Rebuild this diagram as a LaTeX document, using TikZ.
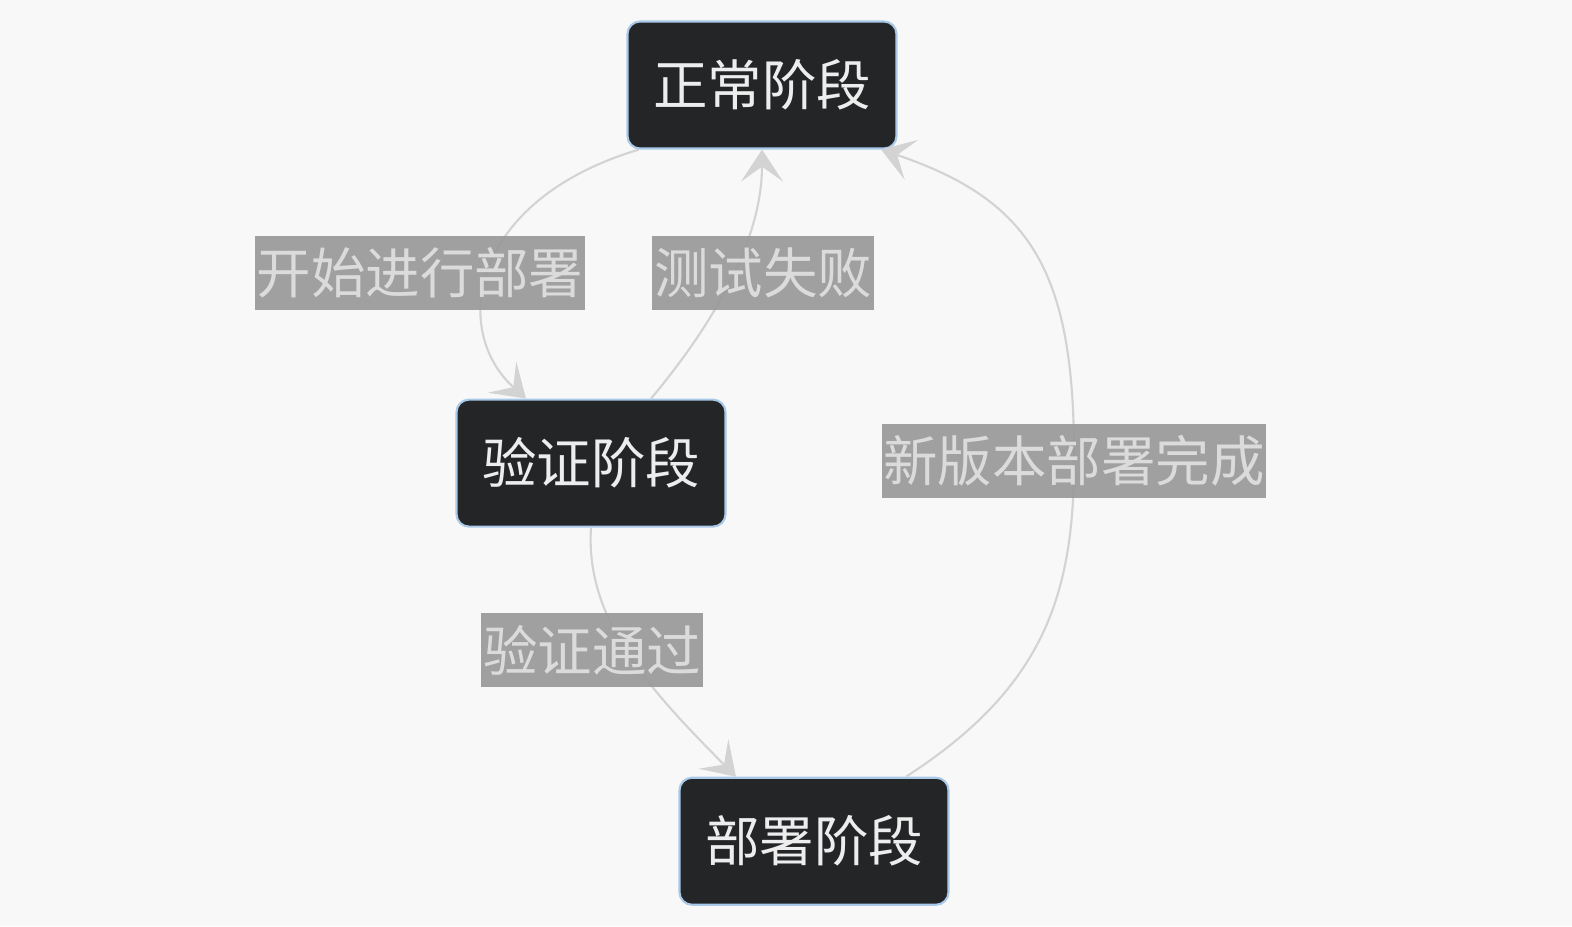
\documentclass[tikz,border=0pt]{standalone}
\usepackage{fontspec}
\newfontfamily\cjk{Noto Sans CJK SC}
\usepackage{tikz}
\usetikzlibrary{arrows.meta, positioning, calc}
\definecolor{bgc}{HTML}{F8F8F8}
\definecolor{boxc}{HTML}{232527}
\definecolor{rimc}{HTML}{A9C9E9}
\definecolor{linkc}{HTML}{D3D3D3}
\definecolor{tagc}{HTML}{999999}

\begin{document}
\begin{tikzpicture}[
      stage/.style = {draw=rimc, line width=1.2pt, fill=boxc, rounded corners=2.5mm,
                      text=white!93!black, align=center,
                      minimum width=5.38cm, minimum height=2.54cm,
                      font=\cjk\fontsize{31}{36}\selectfont},
      tag/.style   = {fill=tagc, fill opacity=0.92, text opacity=1, text=white!86!black,
                      inner xsep=1pt, minimum height=1.48cm,
                      font=\cjk\fontsize{31}{36}\selectfont},
      link/.style  = {draw=linkc, line width=1.2pt,
                      -{Stealth[length=6.4mm, width=8.4mm, inset=3mm]}},
    ]
    \fill[bgc] (0,0) rectangle (31.44,-18.52);
    \useasboundingbox (0,0) rectangle (31.44,-18.52);
    % 阶段
    \node[stage] (normal) at (15.24,-1.70) {正常阶段};
    \node[stage, below=4.98cm of normal, xshift=-3.42cm] (verify) {验证阶段};
    \node[stage, below=4.98cm of verify, xshift=4.46cm] (deploy) {部署阶段};
    % 连线
    \draw[link] ($(normal.south west)+(0.25,0)$) .. controls (9.4,-4.0) and (9.0,-6.6) .. ($(verify.north west)+(1.41,0)$);
    \draw[link] ($(verify.north east)+(-1.51,0)$) .. controls (14.0,-6.8) and (15.24,-5.0) .. (normal.south);
    \draw[link] (verify.south) .. controls (11.7,-12.4) and (13.0,-13.8) .. ($(deploy.north west)+(1.15,0)$);
    \draw[link] ($(deploy.north east)+(-0.87,0)$) .. controls (20.8,-13.8) and (21.48,-12.0) .. (21.48,-9.22)
                .. controls (21.5,-5.4) and (20.6,-4.0) .. ($(normal.south east)+(-0.33,0)$);
    % 标签
    \node[tag] (start)  at (8.40,-5.46)  {开始进行部署};
    \node[tag] (fail)   at (15.26,-5.46) {测试失败};
    \node[tag] (pass)   at (11.84,-13.0) {验证通过};
    \node[tag] (newver) at (21.48,-9.22) {新版本部署完成};
  \end{tikzpicture}
\end{document}
